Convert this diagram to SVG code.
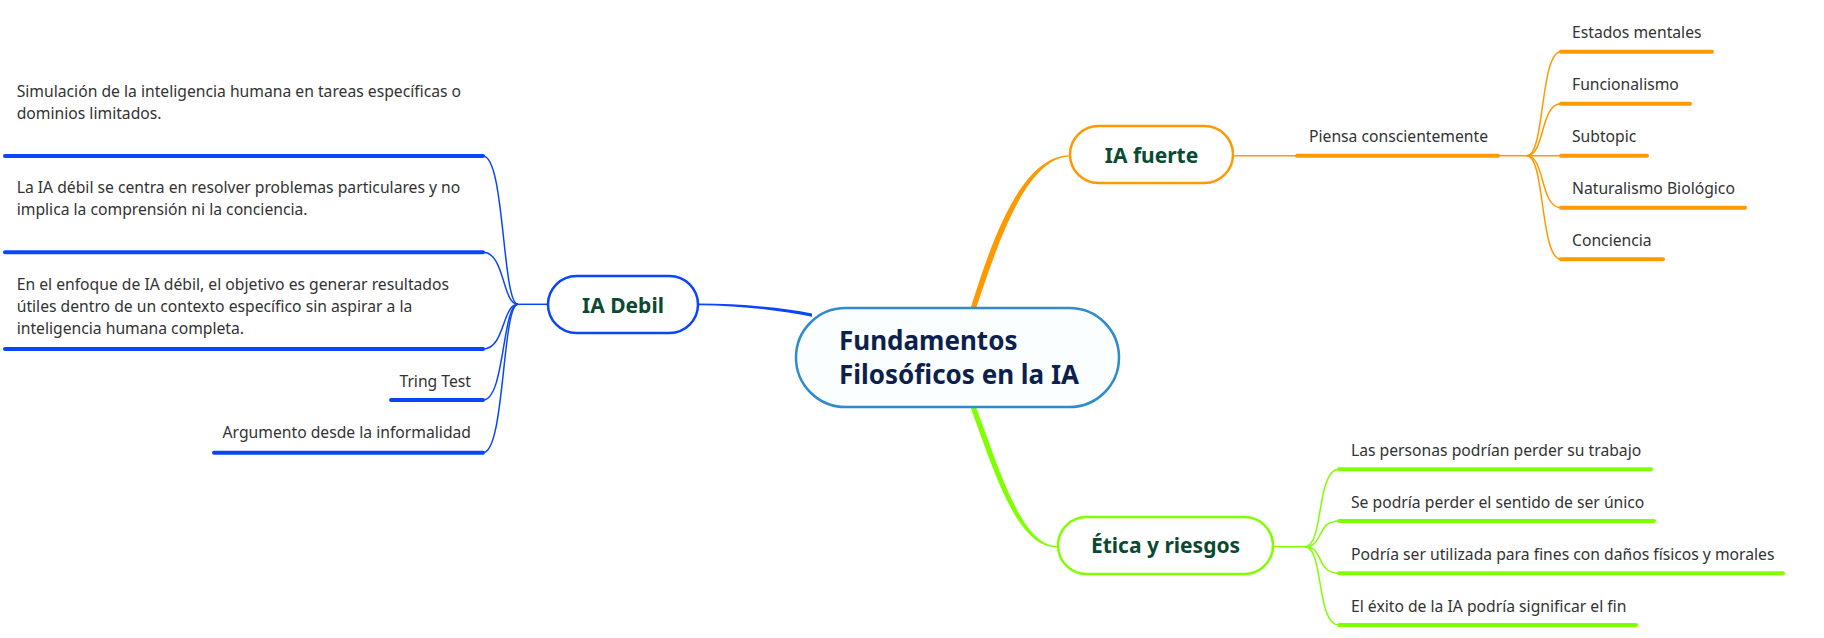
<svg xmlns="http://www.w3.org/2000/svg" width="1824" height="638" viewBox="0 0 1824 638">
<style>
  .sub { font-family: "Noto Sans", "Open Sans", sans-serif; font-size: 15.7px; fill: #333333; }
  .main { font-family: "Noto Sans", "Open Sans", sans-serif; font-size: 21px; font-weight: bold; fill: #0b4a32; }
  .central { font-family: "Noto Sans", "Open Sans", sans-serif; font-size: 26px; font-weight: bold; fill: #0d1f4d; }
  .thin { fill: none; stroke-width: 1.5; }
  .ul { fill: none; stroke-width: 4; stroke-linecap: round; }
  .blue { stroke: #0a46f7; }
  .orange { stroke: #ff9900; }
  .green { stroke: #80ff00; }
</style>
<rect width="1824" height="638" fill="#ffffff"/>
<g id="connectors">
  <path d="M698 303.6 C740 303.6 780 307.2 812 313.4 L812 316.8 C780 310.8 740 305.2 698 305.2 Z" fill="#0a46f7"/>
  <path d="M970.5 308.5 C992.5 238 1022 155.2 1070 155.2 L1070 156.6 C1027 157 999 240 976 308.5 Z" fill="#ff9900"/>
  <path d="M970.5 407 C996 478 1018 547.4 1057 547.4 L1057 546 C1022 545.6 1000 472 976 407 Z" fill="#80ff00"/>
  <line class="thin blue" x1="548" y1="304.3" x2="518" y2="304.3"/>
  <path class="thin blue" d="M518 304.3 C502 304.3 505 156 483 156"/>
  <path class="thin blue" d="M518 304.3 C502 304.3 505 252.3 483 252.3"/>
  <path class="thin blue" d="M518 304.3 C502 304.3 505 349 483 349"/>
  <path class="thin blue" d="M518 304.3 C502 304.3 505 400 483 400"/>
  <path class="thin blue" d="M518 304.3 C502 304.3 505 452.7 483 452.7"/>
  <line class="ul blue" x1="5" y1="156" x2="483" y2="156"/>
  <line class="ul blue" x1="5" y1="252.3" x2="483" y2="252.3"/>
  <line class="ul blue" x1="5" y1="349" x2="483" y2="349"/>
  <line class="ul blue" x1="391" y1="400" x2="483" y2="400"/>
  <line class="ul blue" x1="214" y1="452.7" x2="483" y2="452.7"/>
  <line class="thin orange" x1="1233" y1="155.7" x2="1297" y2="155.7"/>
  <line class="ul orange" x1="1297" y1="155.7" x2="1498" y2="155.7"/>
  <line class="thin orange" x1="1498" y1="155.7" x2="1527" y2="155.7"/>
  <path class="thin orange" d="M1527 155.7 C1545 155.7 1540 51.7 1561 51.7"/>
  <path class="thin orange" d="M1527 155.7 C1545 155.7 1540 103.7 1561 103.7"/>
  <path class="thin orange" d="M1527 155.7 L1561 155.7"/>
  <path class="thin orange" d="M1527 155.7 C1545 155.7 1540 207.7 1561 207.7"/>
  <path class="thin orange" d="M1527 155.7 C1545 155.7 1540 259.3 1561 259.3"/>
  <line class="ul orange" x1="1561" y1="51.7" x2="1712" y2="51.7"/>
  <line class="ul orange" x1="1561" y1="103.7" x2="1690" y2="103.7"/>
  <line class="ul orange" x1="1561" y1="155.7" x2="1647" y2="155.7"/>
  <line class="ul orange" x1="1561" y1="207.7" x2="1745" y2="207.7"/>
  <line class="ul orange" x1="1561" y1="259.3" x2="1663" y2="259.3"/>
  <line class="thin green" x1="1273" y1="546.7" x2="1305" y2="546.7"/>
  <path class="thin green" d="M1305 546.7 C1324 546.7 1316 469.3 1339 469.3"/>
  <path class="thin green" d="M1305 546.7 C1324 546.7 1316 521 1339 521"/>
  <path class="thin green" d="M1305 546.7 C1324 546.7 1316 573.3 1339 573.3"/>
  <path class="thin green" d="M1305 546.7 C1324 546.7 1316 625 1339 625"/>
  <line class="ul green" x1="1339" y1="469.3" x2="1651" y2="469.3"/>
  <line class="ul green" x1="1339" y1="521" x2="1654" y2="521"/>
  <line class="ul green" x1="1339" y1="573.3" x2="1783" y2="573.3"/>
  <line class="ul green" x1="1339" y1="625" x2="1636" y2="625"/>
</g>
<g id="central">
  <rect x="796" y="308" width="323" height="99" rx="49.5" fill="#fbfefe" stroke="#2f8ccc" stroke-width="2.5"/>
  <text class="central" x="839" y="350">Fundamentos</text>
  <text class="central" x="839" y="384">Filosóficos en la IA</text>
</g>
<g id="ia-fuerte">
  <rect x="1070" y="126" width="163" height="57" rx="28.5" fill="#ffffff" stroke="#ff9900" stroke-width="2.5"/>
  <text class="main" x="1151.5" y="163" text-anchor="middle">IA fuerte</text>
</g>
<g id="ia-debil">
  <rect x="548" y="276" width="150" height="57" rx="28.5" fill="#ffffff" stroke="#0a46f7" stroke-width="2.5"/>
  <text class="main" x="623" y="313" text-anchor="middle">IA Debil</text>
</g>
<g id="etica">
  <rect x="1058" y="517" width="215" height="57" rx="28.5" fill="#ffffff" stroke="#80ff00" stroke-width="2.5"/>
  <text class="main" x="1165.5" y="553" text-anchor="middle">Ética y riesgos</text>
</g>
<g id="piensa">
  <text class="sub" x="1309" y="142.3">Piensa conscientemente</text>
</g>
<g id="estados"><text class="sub" x="1572" y="38.3">Estados mentales</text></g>
<g id="funcionalismo"><text class="sub" x="1572" y="90">Funcionalismo</text></g>
<g id="subtopic"><text class="sub" x="1572" y="141.7">Subtopic</text></g>
<g id="naturalismo"><text class="sub" x="1572" y="193.7">Naturalismo Biológico</text></g>
<g id="conciencia"><text class="sub" x="1572" y="245.7">Conciencia</text></g>
<g id="etica-1"><text class="sub" x="1351" y="456">Las personas podrían perder su trabajo</text></g>
<g id="etica-2"><text class="sub" x="1351" y="507.7">Se podría perder el sentido de ser único</text></g>
<g id="etica-3"><text class="sub" x="1351" y="560">Podría ser utilizada para fines con daños físicos y morales</text></g>
<g id="etica-4"><text class="sub" x="1351" y="611.7">El éxito de la IA podría significar el fin</text></g>
<g id="debil-1">
  <text class="sub" x="16.7" y="97.3">Simulación de la inteligencia humana en tareas específicas o</text>
  <text class="sub" x="16.7" y="119.3">dominios limitados.</text>
</g>
<g id="debil-2">
  <text class="sub" x="16.7" y="193.3">La IA débil se centra en resolver problemas particulares y no</text>
  <text class="sub" x="16.7" y="215.3">implica la comprensión ni la conciencia.</text>
</g>
<g id="debil-3">
  <text class="sub" x="16.7" y="290">En el enfoque de IA débil, el objetivo es generar resultados</text>
  <text class="sub" x="16.7" y="312">útiles dentro de un contexto específico sin aspirar a la</text>
  <text class="sub" x="16.7" y="334">inteligencia humana completa.</text>
</g>
<g id="tring"><text class="sub" x="471" y="387.3" text-anchor="end">Tring Test</text></g>
<g id="argumento"><text class="sub" x="471" y="438.3" text-anchor="end">Argumento desde la informalidad</text></g>
</svg>
